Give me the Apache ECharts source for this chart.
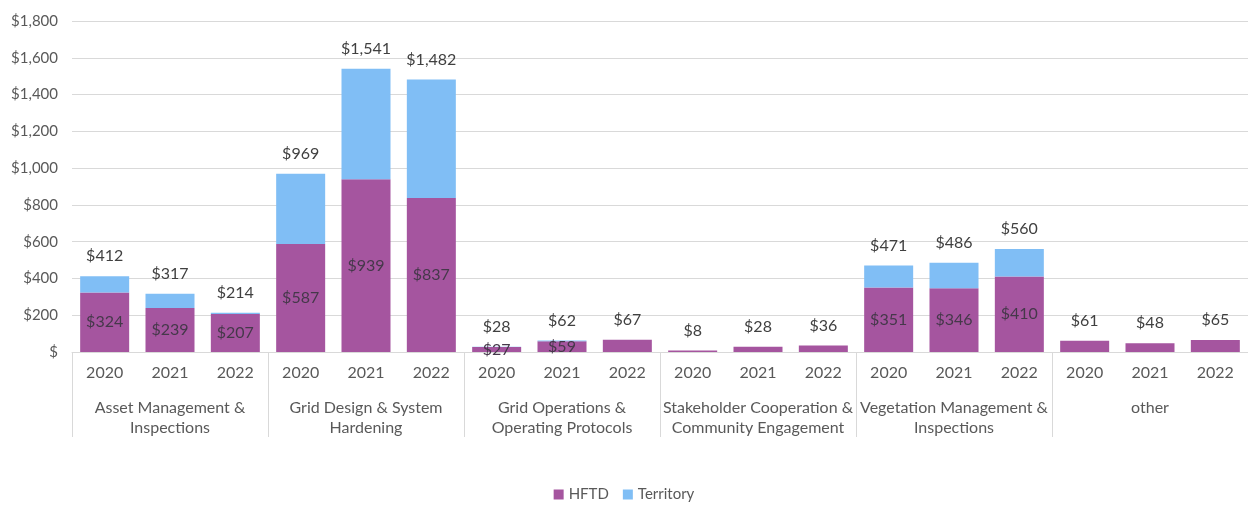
<!DOCTYPE html>
<html>
<head>
<meta charset="utf-8">
<script src="https://cdn.jsdelivr.net/npm/echarts@6/dist/echarts.min.js"></script>
<style>
  html, body { margin: 0; padding: 0; background: #fff; }
  #chart { width: 1248px; height: 512px; }
</style>
</head>
<body>
<div id="chart"></div>
<script>
const groups = [
  'Asset Management &\nInspections',
  'Grid Design & System\nHardening',
  'Grid Operations &\nOperating Protocols',
  'Stakeholder Cooperation &\nCommunity Engagement',
  'Vegetation Management &\nInspections',
  'other'
];
const years = [
  '2020', '2021', '2022', '2020', '2021', '2022', '2020', '2021', '2022',
  '2020', '2021', '2022', '2020', '2021', '2022', '2020', '2021', '2022'
];
const hftd = [324, 239, 207, 587, 939, 837, 27, 59, 67, 8, 28, 36, 351, 346, 410, 61, 48, 65];
const territory = [88, 78, 7, 382, 602, 645, 1, 3, 0, 0, 0, 0, 120, 140, 150, 0, 0, 0];
const totals = [412, 317, 214, 969, 1541, 1482, 28, 62, 67, 8, 28, 36, 471, 486, 560, 61, 48, 65];
// HFTD labels printed inside the bars (null = not shown)
const hftdLabels = [324, 239, 207, 587, 939, 837, 27, 59, null, null, null, null, 351, 346, 410, null, null, null];
const yTicks = [0, 200, 400, 600, 800, 1000, 1200, 1400, 1600, 1800];

const fmt = (v) => v === 0 ? '$' : '$' + v.toLocaleString('en-US');
const font = 'Lato, "Open Sans", sans-serif';

const chart = echarts.init(document.getElementById('chart'));
chart.setOption({
  animation: false,
  textStyle: { fontFamily: font },
  grid: { left: 72, right: 0, top: 21, bottom: 160 },
  legend: {
    bottom: 5,
    left: 'center',
    itemWidth: 10,
    itemHeight: 10,
    itemGap: 14,
    icon: 'rect',
    textStyle: { fontSize: 15, color: '#595959', fontFamily: font },
    data: ['HFTD', 'Territory']
  },
  xAxis: [
    {
      type: 'category',
      data: years,
      position: 'bottom',
      axisLine: { lineStyle: { color: '#d9d9d9' } },
      axisTick: { show: false },
      axisLabel: { fontSize: 16, color: '#595959', margin: 13, interval: 0 }
    },
    {
      type: 'category',
      data: groups,
      position: 'bottom',
      axisLine: { show: false },
      axisTick: { show: true, length: 85, lineStyle: { color: '#d9d9d9' } },
      axisLabel: { fontSize: 16, color: '#595959', margin: 46, lineHeight: 20, interval: 0 }
    }
  ],
  yAxis: {
    type: 'value',
    min: yTicks[0],
    max: yTicks[yTicks.length - 1],
    interval: 200,
    axisLine: { show: false },
    axisTick: { show: false },
    splitLine: { lineStyle: { color: '#d9d9d9' } },
    axisLabel: { fontSize: 15, color: '#595959', margin: 14, formatter: fmt }
  },
  series: [
    {
      name: 'HFTD',
      type: 'bar',
      stack: 'total',
      xAxisIndex: 0,
      barWidth: '75%',
      data: hftd,
      itemStyle: { color: '#A5559F' },
      label: {
        show: true,
        position: 'inside',
        fontSize: 16,
        color: '#45384a',
        formatter: (p) => hftdLabels[p.dataIndex] == null ? '' : fmt(hftdLabels[p.dataIndex])
      }
    },
    {
      name: 'Territory',
      type: 'bar',
      stack: 'total',
      xAxisIndex: 0,
      barWidth: '75%',
      data: territory,
      itemStyle: { color: '#80BEF5' },
      label: {
        show: true,
        position: 'top',
        distance: 12,
        fontSize: 16,
        color: '#404040',
        formatter: (p) => fmt(totals[p.dataIndex])
      }
    }
  ]
});
</script>
</body>
</html>
